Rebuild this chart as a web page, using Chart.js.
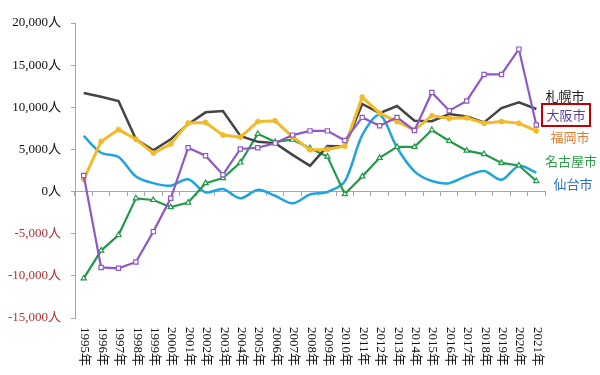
<!DOCTYPE html>
<html>
<head>
<meta charset="utf-8">
<script src="https://cdn.jsdelivr.net/npm/chart.js@4.4.1/dist/chart.umd.min.js"></script>
<style>
html,body{margin:0;padding:0;background:#fff;}
#wrap{width:600px;height:375px;position:relative;}
</style>
</head>
<body>
<div id="wrap"><canvas id="c" width="600" height="375"></canvas></div>
<script>
const years = ["1995年","1996年","1997年","1998年","1999年","2000年","2001年","2002年","2003年","2004年","2005年","2006年","2007年","2008年","2009年","2010年","2011年","2012年","2013年","2014年","2015年","2016年","2017年","2018年","2019年","2020年","2021年"];
const sapporo = [11700, 11250, 10750, 6200, 4900, 6200, 8000, 9400, 9550, 6600, 5900, 5750, 4350, 3050, 5400, 5350, 10400, 9300, 10150, 8400, 8350, 9200, 8900, 8200, 9900, 10600, 9800];
const osaka = [1900, -9000, -9100, -8350, -4750, -800, 5200, 4250, 2000, 5050, 5200, 5750, 6700, 7200, 7200, 6050, 8800, 7800, 8800, 7250, 11750, 9600, 10750, 13900, 13900, 16900, 7900];
const fukuoka = [1450, 5950, 7350, 6200, 4550, 5650, 8150, 8200, 6700, 6450, 8300, 8400, 6500, 4950, 5000, 5400, 11200, 9300, 8300, 7300, 9000, 8700, 8750, 8100, 8300, 8100, 7200];
const nagoya = [-10300, -7000, -5150, -800, -1000, -1850, -1300, 1000, 1600, 3450, 6850, 5900, 6150, 5150, 4150, -300, 1800, 4000, 5300, 5300, 7300, 6000, 4850, 4450, 3400, 3100, 1250];
const sendai = [6600, 4600, 4100, 1800, 1000, 700, 1450, -100, 300, -800, 200, -500, -1400, -350, -50, 1200, 6700, 9100, 5200, 2400, 1250, 1000, 1850, 2450, 1400, 3050, 2250];
const yTicks = [-15000, -10000, -5000, 0, 5000, 10000, 15000, 20000];
const cityNames = ["札幌市", "大阪市", "福岡市", "名古屋市", "仙台市"];

const serif = '"Liberation Serif", "Times New Roman", "Noto Sans CJK JP", serif';
const cjk = '"Noto Sans CJK JP", sans-serif';

const sideLabels = {
  id: 'sideLabels',
  afterDraw(chart) {
    const ctx = chart.ctx;
    const ca = chart.chartArea;
    const xs = chart.scales.x;
    ctx.save();
    ctx.font = '13px ' + serif;
    ctx.fillStyle = '#111';
    ctx.textAlign = 'left';
    ctx.textBaseline = 'middle';
    years.forEach((lab, i) => {
      const x = xs.getPixelForValue(i);
      ctx.save();
      ctx.translate(x + 1, ca.bottom + 9);
      ctx.rotate(Math.PI / 2);
      ctx.fillText(lab, 0, 0);
      ctx.restore();
    });
    ctx.restore();
    const r = ca.right;
    const items = [
      {t: cityNames[0], x: r + 20, y: 96, c: '#222222'},
      {t: cityNames[1], x: r + 21, y: 115, c: '#5a3fa6'},
      {t: cityNames[2], x: r + 25, y: 137, c: '#e07b2e'},
      {t: cityNames[3], x: r + 26, y: 161, c: '#2f9e4a'},
      {t: cityNames[4], x: r + 28, y: 184, c: '#2a70c0'}
    ];
    ctx.save();
    ctx.font = '13px ' + cjk;
    ctx.textAlign = 'center';
    ctx.textBaseline = 'middle';
    items.forEach(it => { ctx.fillStyle = it.c; ctx.fillText(it.t, it.x, it.y); });
    ctx.strokeStyle = '#c00000';
    ctx.lineWidth = 2;
    ctx.strokeRect(r - 3, 104, 48, 22);
    ctx.restore();
  }
};

new Chart(document.getElementById('c'), {
  type: 'line',
  data: {
    labels: years,
    datasets: [
      {label: cityNames[1], data: osaka, borderColor: '#8e58c6', borderWidth: 2.2, pointStyle: 'rect', pointRadius: 3, pointBackgroundColor: '#ffffff', pointBorderColor: '#8e58c6', pointBorderWidth: 1.2, tension: 0},
      {label: cityNames[2], data: fukuoka, borderColor: '#f2ba2a', borderWidth: 3, pointStyle: 'star', pointRadius: 3, pointBackgroundColor: '#f2ba2a', pointBorderColor: '#f2ba2a', pointBorderWidth: 1.5, tension: 0},
      {label: cityNames[0], data: sapporo, borderColor: '#444444', borderWidth: 2.5, pointRadius: 0, tension: 0},
      {label: cityNames[3], data: nagoya, borderColor: '#23994a', borderWidth: 2.2, pointStyle: 'triangle', pointRadius: 3, pointBackgroundColor: '#ffffff', pointBorderColor: '#23994a', pointBorderWidth: 1.2, tension: 0},
      {label: cityNames[4], data: sendai, borderColor: '#21a4dc', borderWidth: 2.5, pointRadius: 0, tension: 0.3}
    ]
  },
  options: {
    responsive: false,
    animation: false,
    layout: {padding: {left: 0, right: 55, top: 23, bottom: 57}},
    plugins: {legend: {display: false}, tooltip: {enabled: false}},
    scales: {
      x: {
        type: 'category',
        position: {y: 0},
        offset: true,
        grid: {display: true, drawOnChartArea: false, drawTicks: true, tickLength: 4, offset: true, color: '#a6a6a6'},
        border: {display: true, color: '#a6a6a6', width: 1},
        ticks: {display: false}
      },
      y: {
        min: -15000, max: 20000,
        afterBuildTicks(scale) { scale.ticks = yTicks.map(v => ({value: v})); },
        afterFit(scale) { scale.width = 75; },
        grid: {display: true, drawOnChartArea: false, drawTicks: true, tickLength: 4, color: '#a6a6a6'},
        border: {display: true, color: '#a6a6a6', width: 1},
        ticks: {
          padding: 10,
          font: {family: serif, size: 13},
          color: ctx => (ctx.tick && ctx.tick.value < 0) ? '#b03232' : '#111111',
          callback: v => v.toLocaleString('en-US') + '人'
        }
      }
    }
  },
  plugins: [sideLabels]
});
</script>
</body>
</html>
